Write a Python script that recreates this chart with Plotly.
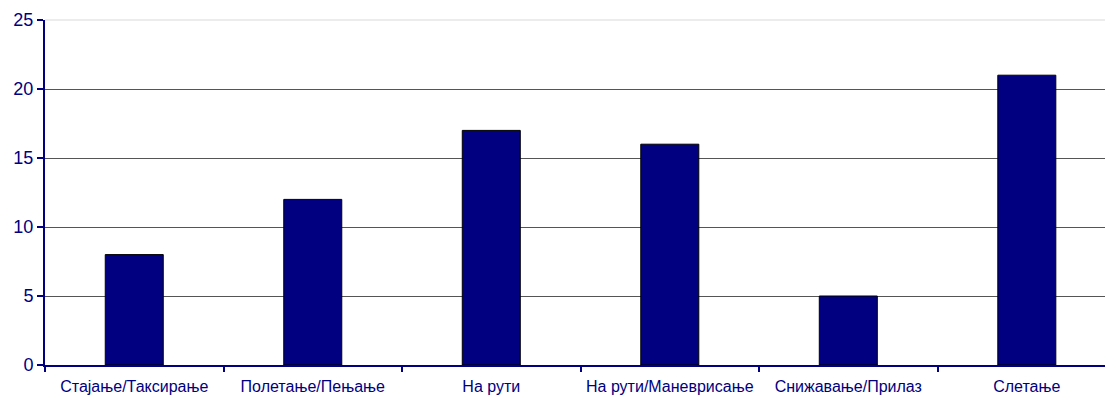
import plotly.graph_objects as go

categories = [
    "Стајање/Таксирање",
    "Полетање/Пењање",
    "На рути",
    "На рути/Маневрисање",
    "Снижавање/Прилаз",
    "Слетање",
]
counts = [8, 12, 17, 16, 5, 21]
y_ticks = [0, 5, 10, 15, 20, 25]

navy = "#000080"

fig = go.Figure(
    go.Bar(
        x=categories,
        y=counts,
        width=0.325,
        marker=dict(color=navy, line=dict(color="#000000", width=1)),
    )
)

fig.update_layout(
    width=1105,
    height=396,
    margin=dict(l=45, r=0, t=20, b=31),
    paper_bgcolor="white",
    plot_bgcolor="white",
    showlegend=False,
    font=dict(family="Liberation Sans, Arial, sans-serif", color=navy),
    shapes=[
        dict(type="line", xref="paper", yref="paper", x0=0, x1=1, y0=1, y1=1,
             line=dict(color="#d9d9d9", width=1), layer="above"),
    ],
)

fig.update_xaxes(
    type="category",
    range=[-0.5, 5.438],
    tickson="boundaries",
    ticks="outside",
    ticklen=5,
    tickwidth=2,
    tickcolor=navy,
    showline=True,
    linecolor=navy,
    linewidth=2,
    showgrid=False,
    ticklabelstandoff=6,
    tickfont=dict(size=16, color=navy),
)

fig.update_yaxes(
    range=[0, 25],
    tickvals=y_ticks,
    ticks="outside",
    ticklen=6,
    tickwidth=2,
    tickcolor=navy,
    showline=True,
    linecolor=navy,
    linewidth=2,
    showgrid=True,
    gridcolor="#555555",
    gridwidth=1,
    zeroline=False,
    tickfont=dict(size=18, color=navy),
)

fig.write_html("out.html")
